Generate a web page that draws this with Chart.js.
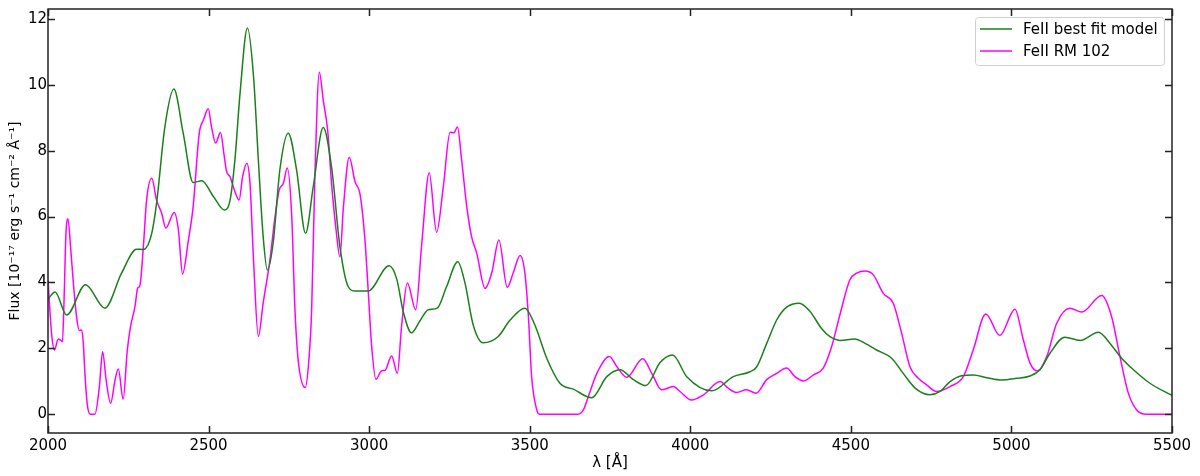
<!DOCTYPE html>
<html>
<head>
<meta charset="utf-8">
<script src="https://cdn.jsdelivr.net/npm/chart.js@4/dist/chart.umd.min.js"></script>
<style>
    html, body { margin: 0; padding: 0; background: #fff; }
    #wrap { width: 1200px; height: 476px; }
</style>
</head>
<body>
<div id="wrap"><canvas id="fluxChart" width="1200" height="476"></canvas></div>
<script>
// wavelengths (Angstrom) and flux (1e-17 erg/s/cm2/A)
const modelWave = [2000, 2022, 2058, 2117, 2177, 2229, 2276, 2297, 2323, 2338, 2364, 2392, 2421, 2452, 2479, 2515, 2549, 2567, 2582, 2598, 2621, 2640,
    2655, 2670, 2683, 2701, 2722, 2748, 2774, 2802, 2826, 2857, 2883, 2909, 2935, 2956, 2997, 3062, 3086, 3106, 3132, 3158, 3184, 3212, 3241,
    3276, 3298, 3324, 3355, 3402, 3439, 3485, 3516, 3553, 3594, 3636, 3693, 3740, 3781, 3823, 3862, 3906, 3945, 3989, 4067, 4134, 4186, 4207,
    4238, 4269, 4300, 4339, 4373, 4408, 4434, 4466, 4512, 4544, 4580, 4627, 4663, 4704, 4746, 4778, 4809, 4845, 4881, 4923, 4970, 5016, 5058,
    5089, 5120, 5166, 5214, 5271, 5307, 5343, 5380, 5431, 5500];
const modelFlux = [3.50, 3.71, 3.01, 3.93, 3.22, 4.28, 5.01, 5.00, 5.49, 6.40, 8.73, 9.87, 8.53, 7.03, 7.09, 6.61, 6.20, 6.50, 7.72, 9.74, 11.72, 10.25,
    7.72, 5.39, 4.38, 5.19, 7.42, 8.53, 7.42, 5.49, 6.91, 8.70, 7.50, 5.09, 3.87, 3.74, 3.74, 4.51, 4.10, 3.12, 2.47, 2.83, 3.17, 3.22, 3.87,
    4.63, 4.00, 2.71, 2.17, 2.36, 2.86, 3.22, 2.71, 1.70, 0.94, 0.76, 0.50, 1.14, 1.35, 1.05, 0.87, 1.57, 1.80, 1.14, 0.71, 1.14, 1.29, 1.44,
    2.15, 2.86, 3.25, 3.37, 3.12, 2.61, 2.36, 2.24, 2.28, 2.15, 1.95, 1.70, 1.24, 0.76, 0.59, 0.69, 0.99, 1.17, 1.19, 1.11, 1.04, 1.09, 1.16,
    1.35, 1.85, 2.34, 2.24, 2.49, 2.15, 1.70, 1.35, 0.94, 0.57];

const rmWave = [2000, 2011, 2020, 2032, 2039, 2045, 2050, 2056, 2062, 2071, 2079, 2089, 2097, 2105, 2110, 2115, 2122, 2131, 2146, 2160, 2170, 2181, 2195,
    2209, 2219, 2234, 2247, 2257, 2271, 2279, 2286, 2297, 2307, 2323, 2338, 2354, 2367, 2393, 2406, 2419, 2437, 2452, 2471, 2484, 2499, 2509,
    2522, 2537, 2549, 2556, 2567, 2582, 2595, 2606, 2619, 2629, 2640, 2655, 2670, 2691, 2707, 2720, 2733, 2745, 2759, 2769, 2779, 2801, 2812,
    2821, 2831, 2845, 2857, 2871, 2883, 2897, 2909, 2920, 2938, 2956, 2972, 2987, 2997, 3008, 3021, 3039, 3049, 3070, 3088, 3101, 3119, 3145,
    3164, 3187, 3210, 3231, 3252, 3264, 3275, 3288, 3304, 3319, 3335, 3361, 3382, 3404, 3430, 3449, 3470, 3485, 3496, 3506, 3522, 3530, 3650,
    3667, 3688, 3709, 3748, 3771, 3802, 3852, 3880, 3911, 3947, 3968, 4004, 4040, 4093, 4118, 4144, 4175, 4205, 4238, 4269, 4300, 4326, 4352,
    4383, 4414, 4440, 4466, 4497, 4518, 4544, 4570, 4601, 4632, 4658, 4684, 4710, 4736, 4767, 4809, 4850, 4881, 4920, 4964, 5011, 5037, 5058,
    5081, 5110, 5141, 5182, 5219, 5281, 5312, 5338, 5364, 5390, 5421, 5500];
const rmFlux = [4.08, 2.46, 1.95, 2.28, 2.25, 2.20, 3.47, 5.49, 5.93, 4.99, 3.98, 2.96, 2.54, 2.56, 2.15, 1.24, 0.33, 0, 0, 0.84, 1.90, 1.04, 0.33,
    1.05, 1.37, 0.46, 1.95, 2.66, 3.27, 3.82, 3.90, 5.09, 6.50, 7.16, 6.50, 6.10, 5.65, 6.12, 5.60, 4.26, 5.27, 6.30, 8.53, 8.93, 9.27, 8.73,
    8.23, 8.55, 7.82, 7.37, 7.21, 6.76, 6.50, 7.21, 7.62, 7.01, 4.68, 2.36, 3.37, 4.68, 6.00, 6.81, 7.01, 7.47, 6.00, 3.17, 1.65, 0.81, 1.60,
    3.17, 7.21, 10.38, 9.54, 8.60, 7.00, 5.60, 4.78, 6.30, 7.80, 7.06, 6.66, 5.29, 3.77, 2.05, 1.06, 1.32, 1.33, 1.77, 1.24, 2.67, 3.98, 3.17,
    5.19, 7.33, 5.52, 6.91, 8.56, 8.54, 8.72, 7.72, 6.30, 5.39, 4.89, 3.82, 4.30, 5.29, 3.85, 4.30, 4.82, 4.28, 2.96, 1.14, 0.13, 0, 0,
    0.13, 0.69, 1.24, 1.75, 1.45, 1.12, 1.68, 1.24, 0.74, 0.84, 0.69, 0.43, 0.58, 0.99, 0.79, 0.66, 0.74, 0.64, 1.05, 1.24, 1.40, 1.14, 1.01,
    1.19, 1.40, 2.05, 3.02, 4.08, 4.28, 4.35, 4.23, 3.67, 3.37, 2.46, 1.44, 1.09, 0.89, 0.69, 0.84, 1.14, 1.95, 3.04, 2.39, 3.19, 2.26, 1.55,
    1.31, 1.75, 2.76, 3.22, 3.10, 3.60, 2.96, 1.75, 0.64, 0.13, 0, 0];

const seriesLabels = ['FeII best fit model', 'FeII RM 102'];
const seriesColors = ['#1a801a', '#ff00ff'];
const xTicks = [2000, 2500, 3000, 3500, 4000, 4500, 5000, 5500];

const FONT = 'DejaVu Sans';

function toPoints(xs, ys) {
    return xs.map((x, i) => ({ x: x, y: ys[i] }));
}

// matplotlib style frame with inward ticks on all four sides + boxed legend
const framePlugin = {
    id: 'frame',
    afterDraw(chart) {
        const { ctx, chartArea: a, scales } = chart;
        const tickLen = 7;
        ctx.save();
        ctx.strokeStyle = '#222';
        ctx.lineWidth = 1.5;
        ctx.strokeRect(a.left, a.top, a.right - a.left, a.bottom - a.top);

        ctx.beginPath();
        scales.x.ticks.forEach(t => {
            const px = Math.round(scales.x.getPixelForValue(t.value)) + 0.5;
            ctx.moveTo(px, a.bottom); ctx.lineTo(px, a.bottom - tickLen);
            ctx.moveTo(px, a.top); ctx.lineTo(px, a.top + tickLen);
        });
        scales.y.ticks.forEach(t => {
            const py = Math.round(scales.y.getPixelForValue(t.value)) + 0.5;
            ctx.moveTo(a.left, py); ctx.lineTo(a.left + tickLen, py);
            ctx.moveTo(a.right, py); ctx.lineTo(a.right - tickLen, py);
        });
        ctx.stroke();

        // legend
        const boxW = 189, boxH = 48;
        const bx = a.right - 8 - boxW, by = a.top + 8;
        ctx.fillStyle = 'rgba(255,255,255,0.8)';
        ctx.strokeStyle = '#d0d0d0';
        ctx.lineWidth = 1;
        ctx.beginPath();
        ctx.roundRect(bx + 0.5, by + 0.5, boxW, boxH, 3);
        ctx.fill();
        ctx.stroke();

        ctx.font = '15px "' + FONT + '"';
        ctx.textBaseline = 'middle';
        ctx.fillStyle = '#000';
        chart.data.datasets.forEach((ds, i) => {
            const ly = by + 12 + i * 22;
            ctx.strokeStyle = ds.borderColor;
            ctx.lineWidth = 1.5;
            ctx.beginPath();
            ctx.moveTo(bx + 5, ly);
            ctx.lineTo(bx + 37, ly);
            ctx.stroke();
            ctx.fillText(ds.label, bx + 48, ly + 1);
        });
        ctx.restore();
    }
};

const ctx = document.getElementById('fluxChart').getContext('2d');
new Chart(ctx, {
    type: 'line',
    data: {
        datasets: [
            {
                label: seriesLabels[0],
                data: toPoints(modelWave, modelFlux),
                borderColor: seriesColors[0],
                borderWidth: 1.5,
                pointRadius: 0,
                cubicInterpolationMode: 'monotone',
                fill: false
            },
            {
                label: seriesLabels[1],
                data: toPoints(rmWave, rmFlux),
                borderColor: seriesColors[1],
                borderWidth: 1.5,
                pointRadius: 0,
                cubicInterpolationMode: 'monotone',
                fill: false
            }
        ]
    },
    options: {
        responsive: false,
        animation: false,
        layout: { padding: { top: 9, right: 28, left: 0, bottom: 0 } },
        plugins: {
            legend: { display: false },
            tooltip: { enabled: false }
        },
        scales: {
            x: {
                type: 'linear',
                min: 2000,
                max: 5500,
                afterBuildTicks: scale => { scale.ticks = xTicks.map(v => ({ value: v })); },
                afterFit: scale => {
                    scale.height = 43;
                    scale.paddingLeft = 0;
                    scale.paddingRight = 0;
                },
                grid: { display: false, drawTicks: false },
                border: { display: false },
                ticks: {
                    padding: 4,
                    color: '#000',
                    font: { family: FONT, size: 15 },
                    callback: v => String(v)
                },
                title: {
                    display: true,
                    text: 'λ [Å]',
                    color: '#000',
                    padding: { top: 0, bottom: 4 },
                    font: { family: FONT, size: 15 }
                }
            },
            y: {
                min: -0.57,
                max: 12.3,
                afterFit: scale => {
                    scale.width = 48;
                    scale.paddingTop = 0;
                    scale.paddingBottom = 0;
                },
                grid: { display: false, drawTicks: false },
                border: { display: false },
                ticks: { stepSize: 2, includeBounds: false, padding: 1, color: '#000', font: { family: FONT, size: 15 } },
                title: {
                    display: true,
                    text: 'Flux [10⁻¹⁷ erg s⁻¹ cm⁻² Å⁻¹]',
                    color: '#000',
                    padding: { top: 7, bottom: 0 },
                    font: { family: FONT, size: 14 }
                }
            }
        }
    },
    plugins: [framePlugin]
});
</script>
</body>
</html>
